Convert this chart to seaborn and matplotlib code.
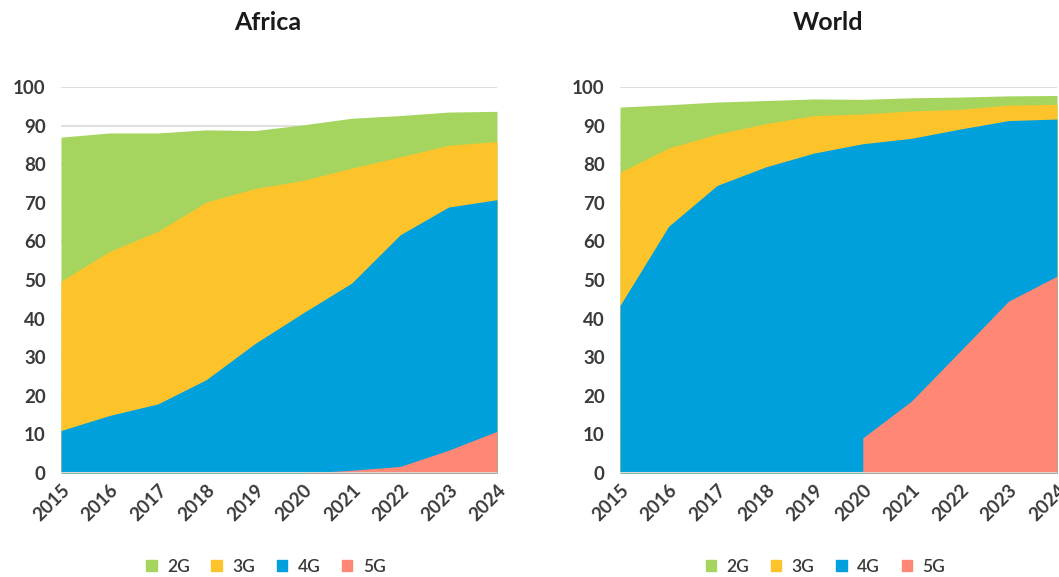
import numpy as np
import pandas as pd
import matplotlib.pyplot as plt
import seaborn as sns
from matplotlib.patches import Patch

years = list(range(2015, 2025))
tick_labels = [str(y) for y in years]
technologies = ["2G", "3G", "4G", "5G"]

# coverage (% of population), each line is the total reach of that technology or better
africa_2g = [87.0, 88.1, 88.1, 88.9, 88.7, 90.2, 91.9, 92.6, 93.5, 93.7]
africa_3g = [49.7, 57.4, 62.6, 70.2, 73.7, 75.8, 79.0, 81.9, 84.9, 85.9]
africa_4g = [11.0, 14.9, 17.9, 24.2, 33.5, 41.5, 49.2, 61.7, 68.9, 70.8]
africa_5g = [np.nan, np.nan, np.nan, np.nan, np.nan, 0.0, 0.7, 1.7, 5.9, 10.8]

world_2g = [94.8, 95.4, 96.1, 96.5, 96.9, 96.8, 97.2, 97.4, 97.7, 97.8]
world_3g = [77.9, 84.2, 87.8, 90.5, 92.6, 93.0, 93.8, 94.2, 95.3, 95.5]
world_4g = [43.4, 63.9, 74.5, 79.3, 82.9, 85.3, 86.7, 89.1, 91.3, 91.7]
world_5g = [np.nan, np.nan, np.nan, np.nan, np.nan, 9.1, 18.6, 31.5, 44.5, 51.0]

colors = {"2G": "#a5d55f", "3G": "#fcc42a", "4G": "#00a0dd", "5G": "#ff8776"}

sns.set_theme(style="white")
plt.rcParams["font.family"] = ["Lato", "DejaVu Sans"]

fig = plt.figure(figsize=(10.59, 5.77), dpi=100)
ax_left = fig.add_axes([61 / 1059, 1 - 473 / 577, 436 / 1059, 386 / 577])
ax_right = fig.add_axes([620 / 1059, 1 - 473 / 577, 437 / 1059, 386 / 577])

panels = [
    (ax_left, "Africa", [africa_2g, africa_3g, africa_4g, africa_5g]),
    (ax_right, "World", [world_2g, world_3g, world_4g, world_5g]),
]

text_color = "#3a3a3a"
for ax, title, series in panels:
    df = pd.DataFrame(dict(zip(technologies, series)), index=years)
    for ytick in range(10, 101, 10):
        ax.axhline(ytick, color="#d9d9d9", lw=1.2, zorder=0)
    for tech in technologies:
        vals = df[tech]
        ax.fill_between(df.index, 0, vals, where=~vals.isna(),
                        color=colors[tech], lw=0, zorder=2)
    ax.axhline(0, color="#d9d9d9", lw=1.5, zorder=3)
    ax.set_xlim(2015, 2024)
    ax.set_ylim(0, 100)
    ax.set_yticks(range(0, 101, 10))
    ax.set_xticks(years)
    ax.set_xticklabels(tick_labels, rotation=45, ha="right", va="top",
                       rotation_mode="anchor")
    ax.tick_params(axis="both", labelsize=13.5, colors=text_color, length=0)
    ax.tick_params(axis="y", pad=11)
    ax.tick_params(axis="x", pad=6)
    for lab in ax.get_xticklabels() + ax.get_yticklabels():
        lab.set_fontweight("bold")
    sns.despine(ax=ax, left=True, bottom=True)
    ax.set_title(title, fontsize=18, fontweight="bold", color="#1a1a1a",
                 pad=41, x=0.475)
    handles = [Patch(color=colors[t], label=t) for t in technologies]
    leg = ax.legend(handles=handles, loc="center",
                    bbox_to_anchor=(0.47, (473 - 567) / 386),
                    ncol=4, frameon=False, fontsize=12.5, handlelength=0.6,
                    handleheight=0.6, handletextpad=0.6, columnspacing=1.25,
                    labelcolor=text_color)
    for t in leg.get_texts():
        t.set_fontweight("semibold")

fig.savefig("out.png", dpi=100)
